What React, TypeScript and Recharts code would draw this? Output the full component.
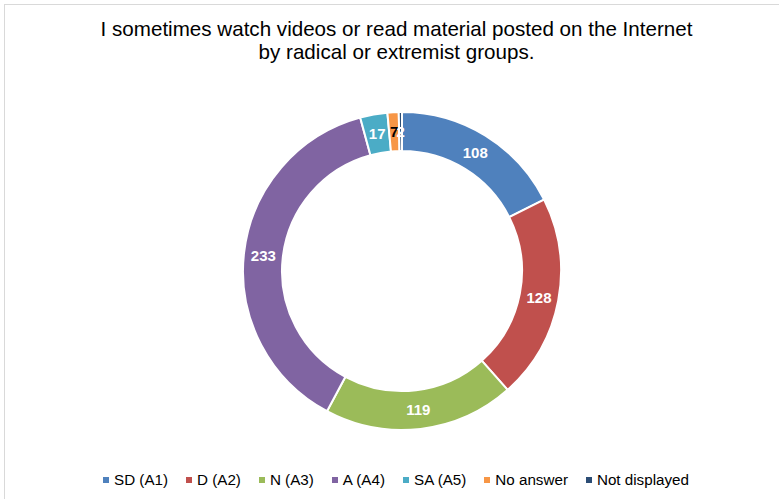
import React from 'react';
import { PieChart, Pie, Cell } from 'recharts';

const categories = ['SD (A1)', 'D (A2)', 'N (A3)', 'A (A4)', 'SA (A5)', 'No answer', 'Not displayed'];
const counts = [108, 128, 119, 233, 17, 7, 2];
const colors = ['#4F81BD', '#C0504D', '#9BBB59', '#8064A2', '#4BACC6', '#F79646', '#2C4D75'];
const titleLines = [
  'I sometimes watch videos or read material posted on the Internet',
  'by radical or extremist groups.',
];

const data = categories.map((name, i) => ({ name, value: counts[i] }));

const RAD = Math.PI / 180;

const renderLabel = (props: any) => {
  const { cx, cy, midAngle, innerRadius, outerRadius, value, name } = props;
  const r = (innerRadius + outerRadius) / 2;
  const x = cx + r * Math.cos(-midAngle * RAD);
  const y = cy + r * Math.sin(-midAngle * RAD);
  return (
    <text
      x={x}
      y={y}
      fill={name === 'No answer' ? '#000000' : '#ffffff'}
      textAnchor="middle"
      dominantBaseline="central"
      fontFamily="Liberation Sans, Arial, sans-serif"
      fontWeight="bold"
      fontSize={15}
    >
      {value}
    </text>
  );
};

export default function App() {
  return (
    <div
      style={{
        position: 'absolute',
        left: 0,
        top: 0,
        width: 779,
        height: 499,
        background: '#fff',
        overflow: 'hidden',
        fontFamily: 'Liberation Sans, Arial, sans-serif',
      }}
    >
      {/* chart area border, runs off the right and bottom edge */}
      <div
        style={{
          position: 'absolute',
          left: 4,
          top: 4,
          width: 800,
          height: 520,
          border: '1.5px solid #d9d9d9',
          boxSizing: 'border-box',
        }}
      />
      <div
        style={{
          position: 'absolute',
          left: 0,
          top: 17,
          width: 793,
          textAlign: 'center',
          fontSize: 20.6,
          lineHeight: '23px',
          color: '#000',
        }}
      >
        {titleLines.map((t) => (
          <div key={t}>{t}</div>
        ))}
      </div>
      <div style={{ position: 'absolute', left: 0, top: 0 }}>
        <PieChart width={779} height={499}>
          <Pie
            data={data}
            dataKey="value"
            nameKey="name"
            cx={397}
            cy={266}
            innerRadius={120}
            outerRadius={159}
            startAngle={90}
            endAngle={-270}
            stroke="#ffffff"
            strokeWidth={2}
            label={renderLabel}
            labelLine={false}
            isAnimationActive={false}
          >
            {data.map((d, i) => (
              <Cell key={d.name} fill={colors[i]} />
            ))}
          </Pie>
        </PieChart>
      </div>
      <div
        style={{
          position: 'absolute',
          left: 103,
          top: 471,
          display: 'flex',
          alignItems: 'center',
          fontSize: 15.2,
          color: '#000',
          whiteSpace: 'nowrap',
        }}
      >
        {categories.map((c, i) => (
          <div key={c} style={{ display: 'flex', alignItems: 'center', marginRight: 18 }}>
            <span
              style={{
                display: 'inline-block',
                width: 6,
                height: 6,
                background: colors[i],
                marginRight: 5,
              }}
            />
            <span>{c}</span>
          </div>
        ))}
      </div>
    </div>
  );
}
